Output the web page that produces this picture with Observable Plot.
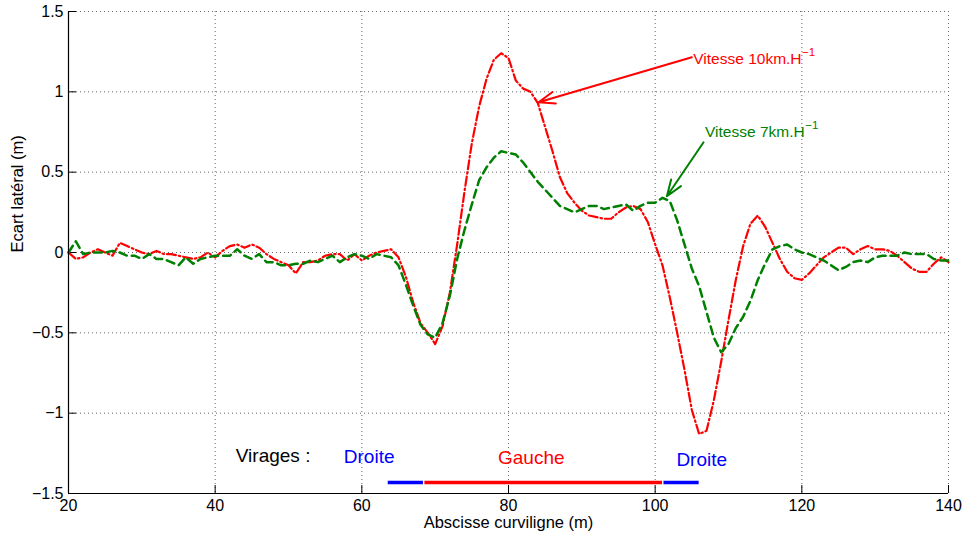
<!DOCTYPE html>
<html>
<head>
<meta charset="utf-8">
<script src="https://cdn.jsdelivr.net/npm/d3@7"></script>
<script src="https://cdn.jsdelivr.net/npm/@observablehq/plot@0.6"></script>
<style>
  html, body { margin: 0; padding: 0; background: #fff; }
  #chart { width: 963px; height: 539px; }
</style>
</head>
<body>
<div id="chart"></div>
<script>
// ---- Data ----
const abscisse = d3.range(20, 141, 1);

const vitesse10 = [
  0.00, -0.04, -0.03, 0.00, 0.02, 0.00, -0.02, 0.06, 0.04, 0.02,
  0.00, -0.01, 0.01, -0.01, -0.01, -0.02, -0.03, -0.04, -0.03, 0.00,
  -0.03, 0.01, 0.04, 0.05, 0.03, 0.05, 0.03, -0.01, -0.04, -0.06,
  -0.08, -0.13, -0.06, -0.06, -0.05, -0.02, -0.01, -0.01, -0.05, -0.01,
  -0.05, -0.02, 0.00, 0.01, 0.02, -0.03, -0.15, -0.31, -0.44, -0.50,
  -0.57, -0.46, -0.25, 0.05, 0.38, 0.68, 0.91, 1.08, 1.20, 1.24,
  1.21, 1.07, 1.02, 1.00, 0.93, 0.78, 0.63, 0.47, 0.37, 0.31,
  0.26, 0.23, 0.22, 0.21, 0.21, 0.25, 0.28, 0.29, 0.27, 0.19,
  0.05, -0.08, -0.28, -0.50, -0.73, -0.98, -1.13, -1.11, -0.92, -0.68,
  -0.42, -0.17, 0.04, 0.18, 0.23, 0.16, 0.06, -0.04, -0.12, -0.16,
  -0.17, -0.13, -0.08, -0.03, 0.00, 0.03, 0.03, -0.01, 0.02, 0.04,
  0.02, 0.02, 0.01, -0.02, -0.06, -0.10, -0.12, -0.12, -0.07, -0.03,
  -0.06
];

const vitesse7 = [
  0.00, 0.07, -0.01, 0.00, 0.00, 0.00, 0.01, 0.00, -0.02, -0.02,
  -0.04, -0.01, -0.04, -0.04, -0.06, -0.08, -0.03, -0.07, -0.04, -0.03,
  -0.02, -0.02, -0.02, 0.02, -0.02, -0.04, -0.01, -0.06, -0.06, -0.08,
  -0.08, -0.07, -0.07, -0.05, -0.06, -0.04, -0.02, -0.06, -0.03, -0.01,
  -0.02, -0.04, -0.01, -0.02, -0.03, -0.08, -0.20, -0.33, -0.45, -0.51,
  -0.53, -0.44, -0.27, -0.04, 0.14, 0.30, 0.45, 0.53, 0.59, 0.63,
  0.62, 0.61, 0.56, 0.50, 0.44, 0.39, 0.34, 0.29, 0.27, 0.25,
  0.27, 0.29, 0.29, 0.27, 0.28, 0.29, 0.30, 0.26, 0.29, 0.31,
  0.31, 0.34, 0.32, 0.20, 0.05, -0.10, -0.21, -0.37, -0.53, -0.62,
  -0.57, -0.47, -0.40, -0.30, -0.17, -0.07, 0.02, 0.04, 0.05, 0.02,
  0.00, -0.01, -0.03, -0.05, -0.08, -0.11, -0.09, -0.06, -0.05, -0.06,
  -0.03, -0.02, -0.02, -0.02, 0.00, -0.01, -0.01, -0.01, -0.04, -0.05,
  -0.05
];

const xTicks = [20, 40, 60, 80, 100, 120, 140];
const yTicks = [-1.5, -1, -0.5, 0, 0.5, 1, 1.5];

const virageLabels = ["Droite", "Gauche", "Droite"];
const virageStart = [63.6, 68.6, 101.2];
const virageEnd = [68.4, 101.0, 106.0];

// ---- Build tables ----
const s10 = abscisse.map((x, i) => ({x, y: vitesse10[i]}));
const s7 = abscisse.map((x, i) => ({x, y: vitesse7[i]}));
const virages = virageLabels.map((label, i) => ({label, x1: virageStart[i], x2: virageEnd[i]}));
const virageColor = {Droite: "#0000ff", Gauche: "#ff0000"};

const W = 963, H = 539;
const mL = 68, mR = 15, mT = 11, mB = 46;
const pxPerY = (H - mT - mB) / 3;
const pxPerX = (W - mL - mR) / 120;
const tickLen = 8;
const font = "'Liberation Sans', Arial, Helvetica, sans-serif";
const annSize = 15.5;

// measure annotation widths to place the superscripts
const ctx = document.createElement("canvas").getContext("2d");
ctx.font = `${annSize}px 'Liberation Sans', Arial, sans-serif`;
const lab10 = "Vitesse 10km.H", lab7 = "Vitesse 7km.H";
const w10 = ctx.measureText(lab10).width;
const w7 = ctx.measureText(lab7).width;

const chart = Plot.plot({
  width: W, height: H,
  marginLeft: mL, marginRight: mR, marginTop: mT, marginBottom: mB,
  style: {fontFamily: font, fontSize: "16px", background: "#fff", color: "#000", overflow: "visible"},
  x: {domain: [20, 140]},
  y: {domain: [-1.5, 1.5]},
  marks: [
    Plot.gridX(xTicks, {stroke: "#666", strokeOpacity: 1, strokeDasharray: "1,3"}),
    Plot.gridY(yTicks, {stroke: "#666", strokeOpacity: 1, strokeDasharray: "1,3"}),
    Plot.axisX(xTicks, {tickSize: 0, tickPadding: 6.5, label: null, fontSize: 16}),
    Plot.axisY(yTicks, {tickSize: 0, tickPadding: 5, label: null, fontSize: 16,
      tickFormat: d => (d < 0 ? "\u2212" : "") + Math.abs(d)}),
    // inward tick marks
    Plot.ruleX(xTicks, {y1: -1.5, y2: -1.5 + tickLen / pxPerY, stroke: "#000"}),
    Plot.ruleY(yTicks, {x1: 20, x2: 20 + tickLen / pxPerX, stroke: "#000"}),
    // data
    Plot.line(s10, {x: "x", y: "y", stroke: "#ff0000", strokeWidth: 2.2, strokeDasharray: "9,3,1.5,3"}),
    Plot.line(s7, {x: "x", y: "y", stroke: "#008000", strokeWidth: 2.5, strokeDasharray: "8,5"}),
    // axes lines
    Plot.ruleX([20], {stroke: "#000", strokeWidth: 1.2}),
    Plot.ruleY([-1.5], {stroke: "#000", strokeWidth: 1.2}),
    // turns
    Plot.ruleY(virages, {y: -1.431, x1: "x1", x2: "x2", stroke: d => virageColor[d.label], strokeWidth: 3.5}),
    Plot.text(["Virages :"], {x: 47.9, y: -1.267, text: d => d, fill: "#000", fontSize: 19}),
    Plot.text([
      {label: "Droite", x: 61.0, y: -1.274},
      {label: "Gauche", x: 83.1, y: -1.28},
      {label: "Droite", x: 106.35, y: -1.293}
    ], {x: "x", y: "y", text: "label", fill: d => virageColor[d.label], fontSize: 19}),
    // annotations
    Plot.arrow([0], {x1: 105.0, y1: 1.215, x2: 84.1, y2: 0.935, stroke: "#ff0000", strokeWidth: 2, headLength: 13, headAngle: 40}),
    Plot.text([lab10], {x: 105.2, y: 1.203, text: d => d, textAnchor: "start", fill: "#ff0000", fontSize: annSize}),
    Plot.text(["\u22121"], {x: 105.2, y: 1.203, dx: w10 + 0.5, dy: -7, text: d => d, textAnchor: "start", fill: "#ff0000", fontSize: 11.5}),
    Plot.arrow([0], {x1: 106.6, y1: 0.686, x2: 101.6, y2: 0.35, stroke: "#008000", strokeWidth: 2, headLength: 13, headAngle: 40}),
    Plot.text([lab7], {x: 106.8, y: 0.75, text: d => d, textAnchor: "start", fill: "#008000", fontSize: annSize}),
    Plot.text(["\u22121"], {x: 106.8, y: 0.75, dx: w7 + 0.5, dy: -7, text: d => d, textAnchor: "start", fill: "#008000", fontSize: 11.5}),
    // axis labels
    Plot.text(["Abscisse curviligne (m)"], {frameAnchor: "bottom", dy: 34.5, text: d => d, fontSize: 16.5, fill: "#000"}),
    Plot.text(["Ecart lat\u00E9ral (m)"], {frameAnchor: "left", dx: -51, rotate: -90, text: d => d, fontSize: 16.5, fill: "#000"})
  ]
});
document.getElementById("chart").appendChild(chart);
</script>
</body>
</html>
